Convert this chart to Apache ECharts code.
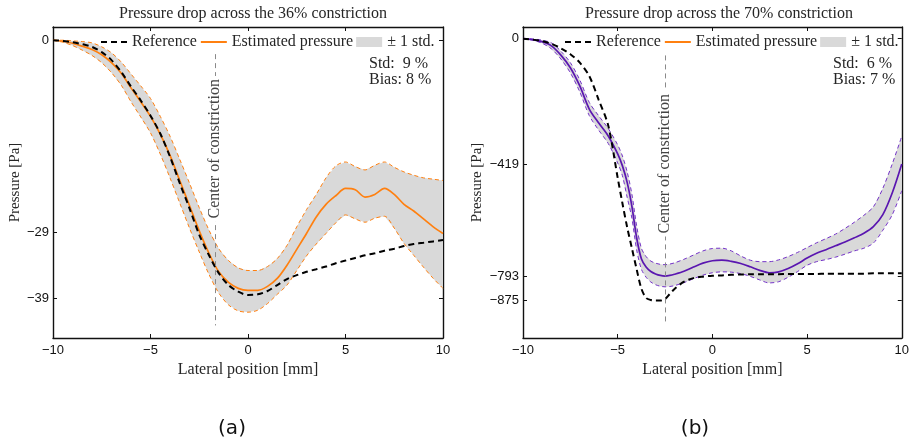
<!DOCTYPE html>
<html>
<head>
<meta charset="utf-8">
<script src="https://cdn.jsdelivr.net/npm/echarts@6/dist/echarts.min.js"></script>
<style>
  html, body { margin: 0; padding: 0; background: #fff; }
  #chart { width: 912px; height: 443px; }
</style>
</head>
<body>
<div id="chart"></div>
<script>
// ---------- (a) 36% constriction ----------
const xA = [-10, -9.5, -9, -8.5, -8, -7.5, -7, -6.5, -6, -5.5, -5, -4.5, -4, -3.5, -3, -2.5, -2, -1.5, -1, -0.5,
            0, 0.5, 1, 1.5, 2, 2.5, 3, 3.5, 4, 4.5, 5, 5.5, 6, 6.5, 7, 7.5, 8, 8.5, 9, 9.5, 10];
const refA = [0, -0.1, -0.3, -0.6, -1.0, -1.8, -3.0, -4.8, -7.0, -9.1, -11.4, -14.1, -17.6, -21.6, -25.4, -29.4, -32.5, -35.2, -37.0, -38.0,
              -38.5, -38.4, -37.9, -37.0, -36.1, -35.5, -35.0, -34.6, -34.2, -33.7, -33.3, -32.9, -32.5, -32.2, -31.8, -31.5, -31.1, -30.8, -30.6, -30.4, -30.2];
const estA = [0, -0.15, -0.45, -0.9, -1.4, -2.2, -3.4, -5.0, -7.2, -9.3, -11.5, -14.2, -17.4, -21.2, -25.0, -28.8, -32.2, -35.0, -36.6, -37.5,
              -37.8, -37.8, -37.2, -36.0, -34.0, -31.6, -29.2, -26.7, -24.8, -23.5, -22.4, -22.6, -23.7, -23.3, -22.4, -23.3, -24.8, -25.8, -27.0, -28.2, -29.2];
const upperA = [0, 0, -0.1, -0.2, -0.4, -1.0, -1.9, -3.3, -5.1, -6.9, -8.8, -11.5, -14.5, -18.0, -21.6, -25.3, -28.7, -31.5, -33.3, -34.4,
                -34.8, -34.8, -34.2, -33.0, -31.0, -28.2, -25.6, -23.3, -20.8, -19.0, -18.4, -19.1, -19.6, -18.9, -18.4, -19.2, -19.9, -20.4, -20.8, -21.0, -21.2];
const lowerA = [0, -0.3, -0.8, -1.5, -2.3, -3.4, -4.9, -6.8, -9.3, -11.6, -14.0, -17.2, -20.8, -24.6, -28.4, -32.0, -35.4, -38.2, -40.0, -40.9,
                -41.1, -40.8, -39.8, -38.4, -37.0, -34.8, -32.6, -30.8, -29.2, -27.6, -26.4, -27.0, -27.5, -26.9, -26.6, -28.4, -30.7, -32.5, -34.3, -36.0, -37.5];
const yTicksA = [0, -29, -39];
const centerA = -1.7;
const statsA = ['Std:  9 %', 'Bias: 8 %'];

// ---------- (b) 70% constriction ----------
const xB = [-10, -9.5, -9, -8.5, -8, -7.5, -7, -6.5, -6, -5.5, -5, -4.75, -4.5, -4.25, -4, -3.75, -3.5, -3.25, -3, -2.75, -2.5, -2.25, -2,
            -1.5, -1, -0.5, 0, 0.5, 1, 1.5, 2, 2.5, 3, 3.5, 4, 4.5, 5, 5.5, 6, 6.5, 7, 7.5, 8, 8.5, 9, 9.5, 10];
const refB = [0, -3, -8, -17, -32, -52, -80, -125, -205, -290, -465, -550, -630, -700, -770, -835, -866, -873, -875, -875, -870, -853, -836,
              -812, -800, -795, -792, -791, -789, -788, -787, -787, -787, -787, -786, -786, -786, -786, -785, -785, -785, -785, -785, -784, -784, -784, -784];
const estB = [0, -3, -10, -24, -55, -97, -158, -235, -282, -325, -385, -425, -480, -560, -665, -735, -763, -778, -786, -791, -793, -791, -787,
              -777, -763, -750, -742, -740, -744, -751, -762, -774, -782, -779, -768, -752, -733, -717, -705, -692, -679, -665, -650, -628, -588, -515, -419];
const upperB = [0, -1, -5, -14, -42, -80, -138, -213, -258, -300, -355, -392, -445, -520, -625, -700, -728, -743, -750, -754, -755, -753, -749,
                -737, -723, -709, -701, -700, -709, -726, -740, -745, -745, -739, -728, -714, -698, -682, -668, -653, -634, -613, -590, -562, -500, -418, -326];
const lowerB = [0, -5, -15, -34, -68, -114, -178, -257, -306, -350, -415, -458, -530, -600, -705, -770, -797, -813, -822, -827, -829, -828, -825,
                -815, -802, -790, -782, -779, -780, -785, -794, -806, -816, -812, -797, -778, -757, -745, -738, -730, -720, -709, -700, -683, -640, -588, -508];
const yTicksB = [0, -419, -793, -875];
const centerB = -2.5;
const statsB = ['Std:  6 %', 'Bias: 7 %'];

// ---------- styling ----------
const SERIF = '"Liberation Serif", "Times New Roman", serif';
const SANS = '"Liberation Sans", Arial, Helvetica, sans-serif';
const ORANGE = '#ff8010';
const PURPLE = '#5a16b0';
const PURPLE_EDGE = '#7433c8';
const BAND = '#d9d9d9';
const TEXT = '#262626';
const SMOOTH = 0.3;

const pairs = (xs, ys) => xs.map((x, i) => [x, ys[i]]);
const minusFmt = v => (v < 0 ? '\u2212' + Math.abs(v) : String(v));

function xAxes(gridIndex) {
  const common = {
    gridIndex, type: 'value', min: -10, max: 10, interval: 5,
    splitLine: { show: false },
    axisLine: { show: true, onZero: false, lineStyle: { color: '#111', width: 1.4 } },
    axisTick: { show: true, inside: true, length: 4, lineStyle: { color: '#111', width: 1 } }
  };
  return [
    Object.assign({}, common, {
      position: 'bottom',
      name: 'Lateral position [mm]', nameLocation: 'middle', nameGap: 16,
      nameTextStyle: { fontFamily: SERIF, fontSize: 16, color: TEXT },
      axisLabel: { fontFamily: SANS, fontSize: 13, color: '#111', margin: 6, formatter: minusFmt }
    }),
    Object.assign({}, common, { position: 'top', axisLabel: { show: false } })
  ];
}

function yAxes(gridIndex, min, max, ticks, nameGap) {
  const common = {
    gridIndex, type: 'value', min, max,
    splitLine: { show: false },
    axisLine: { show: true, onZero: false, lineStyle: { color: '#111', width: 1.4 } },
    axisTick: { show: true, inside: true, length: 4, customValues: ticks, lineStyle: { color: '#111', width: 1 } }
  };
  return [
    Object.assign({}, common, {
      position: 'left',
      name: 'Pressure [Pa]', nameLocation: 'middle', nameGap,
      nameTextStyle: { fontFamily: SERIF, fontSize: 15, color: TEXT },
      axisLabel: { fontFamily: SANS, fontSize: 13, color: '#111', margin: 4, customValues: ticks, formatter: minusFmt }
    }),
    Object.assign({}, common, { position: 'right', axisLabel: { show: false } })
  ];
}

// Shaded ±1 std band: one polygon running along the upper bound and back along the lower bound
function bandSeries(ax, ay, xs, hi, lo) {
  return {
    type: 'custom', name: '\u00b1 1 std.', xAxisIndex: ax, yAxisIndex: ay,
    coordinateSystem: 'cartesian2d', clip: true, silent: true, z: 1,
    data: xs.map((x, i) => [x, hi[i], lo[i]]),
    encode: { x: 0, y: [1, 2] },
    itemStyle: { color: BAND },
    renderItem(params, api) {
      if (params.dataIndex !== 0) return null;
      const pts = [];
      for (let i = 0; i < xs.length; i++) pts.push(api.coord([xs[i], hi[i]]));
      for (let i = xs.length - 1; i >= 0; i--) pts.push(api.coord([xs[i], lo[i]]));
      return { type: 'polygon', shape: { points: pts }, style: { fill: BAND } };
    }
  };
}

function panelSeries(ax, ay, xs, ref, est, hi, lo, lineColor, edgeColor, center, lineTop, lineBottom) {
  return [
    bandSeries(ax, ay, xs, hi, lo),
    {
      type: 'line', name: 'band-upper', xAxisIndex: ax, yAxisIndex: ay,
      data: pairs(xs, hi), symbol: 'none', smooth: SMOOTH, silent: true, z: 2,
      lineStyle: { color: edgeColor, width: 1, type: [4, 3] }
    },
    {
      type: 'line', name: 'band-lower', xAxisIndex: ax, yAxisIndex: ay,
      data: pairs(xs, lo), symbol: 'none', smooth: SMOOTH, silent: true, z: 2,
      lineStyle: { color: edgeColor, width: 1, type: [4, 3] }
    },
    {
      type: 'line', name: 'Estimated pressure', xAxisIndex: ax, yAxisIndex: ay,
      data: pairs(xs, est), symbol: 'none', smooth: SMOOTH, z: 3,
      lineStyle: { color: lineColor, width: 1.7 }, itemStyle: { color: lineColor }
    },
    {
      type: 'line', name: 'Reference', xAxisIndex: ax, yAxisIndex: ay,
      data: pairs(xs, ref), symbol: 'none', smooth: SMOOTH, z: 4,
      lineStyle: { color: '#000', width: 2, type: [6, 4] }, itemStyle: { color: '#000' },
      markLine: {
        silent: true, symbol: 'none', animation: false,
        label: { show: false },
        lineStyle: { color: '#8a8a8a', width: 1, type: [5, 4] },
        data: [[{ coord: [center, lineTop] }, { coord: [center, lineBottom] }]]
      }
    }
  ];
}

const hiddenMarker = { color: 'rgba(0,0,0,0)', borderWidth: 0, opacity: 0 };
function legendAt(left) {
  return {
    left, top: 34, padding: 0, orient: 'horizontal', selectedMode: false,
    itemWidth: 26, itemHeight: 10, itemGap: 3,
    textStyle: { fontFamily: SERIF, fontSize: 16, color: TEXT },
    data: [
      { name: 'Reference', itemStyle: hiddenMarker },
      { name: 'Estimated pressure', itemStyle: hiddenMarker, lineStyle: { color: ORANGE, width: 2 } },
      { name: '\u00b1 1 std.', icon: 'rect', itemStyle: { color: BAND } }
    ]
  };
}

const option = {
  animation: false,
  backgroundColor: '#fff',
  title: [
    { text: 'Pressure drop across the 36% constriction', left: 248, top: 1, textAlign: 'center',
      textStyle: { fontFamily: SERIF, fontSize: 16, fontWeight: 'normal', color: TEXT } },
    { text: 'Pressure drop across the 70% constriction', left: 714, top: 1, textAlign: 'center',
      textStyle: { fontFamily: SERIF, fontSize: 16, fontWeight: 'normal', color: TEXT } },
    { text: '(a)', left: 227, top: 414, textAlign: 'center',
      textStyle: { fontFamily: '"DejaVu Sans", sans-serif', fontSize: 20, fontWeight: 'normal', color: '#111' } },
    { text: '(b)', left: 690, top: 414, textAlign: 'center',
      textStyle: { fontFamily: '"DejaVu Sans", sans-serif', fontSize: 20, fontWeight: 'normal', color: '#111' } }
  ],
  legend: [legendAt(100), legendAt(564)],
  grid: [
    { left: 53, top: 27, width: 390, height: 311, containLabel: false },
    { left: 523, top: 27, width: 383, height: 311, containLabel: false }
  ],
  xAxis: [].concat(xAxes(0), xAxes(1)),
  yAxis: [].concat(yAxes(0, -45, 2, yTicksA, 30), yAxes(1, -1000, 39, yTicksB, 38)),
  series: [].concat(
    panelSeries(0, 0, xA, refA, estA, upperA, lowerA, ORANGE, ORANGE, centerA, -2.1, -43.1),
    panelSeries(2, 2, xB, refB, estB, upperB, lowerB, PURPLE, PURPLE_EDGE, centerB, -56, -949)
  )
};

const chart = echarts.init(document.getElementById('chart'), null, { renderer: 'canvas' });
chart.setOption(option);

// Text annotations placed through the axes' own scales
const refSeriesA = 4, refSeriesB = 9;
const labA = chart.convertToPixel({ seriesIndex: refSeriesA }, [centerA, -16.4]);
const labB = chart.convertToPixel({ seriesIndex: refSeriesB }, [centerB, -418]);
function statsBlock(lines, x, y) {
  return lines.map((t, i) => ({
    type: 'text', x, y: y + i * 16, silent: true,
    style: { text: t, fontFamily: SERIF, fontSize: 16, fill: TEXT, verticalAlign: 'middle' }
  }));
}
function centerLabel(p) {
  return {
    type: 'text', x: p[0], y: p[1], rotation: Math.PI / 2, silent: true, z: 10,
    style: {
      text: 'Center of constriction', fontFamily: SERIF, fontSize: 16, fill: '#444',
      align: 'center', verticalAlign: 'middle', backgroundColor: '#fff', padding: [0, 3]
    }
  };
}
chart.setOption({
  graphic: [].concat(
    statsBlock(statsA, 369, 64),
    statsBlock(statsB, 833, 64),
    [centerLabel(labA), centerLabel(labB)]
  )
});
</script>
</body>
</html>
